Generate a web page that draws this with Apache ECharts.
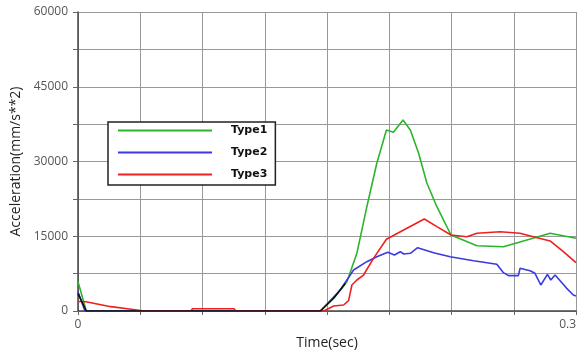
<!DOCTYPE html>
<html>
<head>
<meta charset="utf-8">
<script src="https://cdn.jsdelivr.net/npm/echarts@6/dist/echarts.min.js"></script>
<style>
  html, body { margin: 0; padding: 0; background: #fff; }
  #chart { width: 581px; height: 351px; }
</style>
</head>
<body>
<div id="chart"></div>
<script>
// [time(sec), acceleration(mm/s**2)]
var type1 = [
  [0, 5900], [0.005, 0], [0.146, 0], [0.154, 2550], [0.162, 5880], [0.168, 11580],
  [0.174, 20930], [0.180, 29640], [0.1858, 36320], [0.190, 35860], [0.1958, 38330],
  [0.2002, 36320], [0.2052, 31650], [0.2102, 25630], [0.2162, 20930], [0.2247, 15250],
  [0.2403, 13100], [0.2563, 12900], [0.2704, 14250], [0.2844, 15590], [0.3, 14590]
];
var type2 = [
  [0, 3880], [0.0042, 0], [0.146, 0], [0.158, 4210], [0.166, 8230], [0.174, 9900],
  [0.180, 10900], [0.1866, 11780], [0.1906, 11240], [0.1942, 11900], [0.1962, 11440],
  [0.2002, 11580], [0.2046, 12700], [0.2142, 11700], [0.2242, 10900], [0.2383, 10090],
  [0.2523, 9370], [0.2563, 7690], [0.2593, 7090], [0.2653, 7090], [0.2663, 8560],
  [0.2723, 8090], [0.2753, 7560], [0.2788, 5220], [0.2828, 7360], [0.2848, 6220],
  [0.2874, 7220], [0.2944, 4550], [0.2984, 3210], [0.3, 3010]
];
var type3 = [
  [0, 1900], [0.0048, 1870], [0.0198, 870], [0.0309, 400], [0.04, 0], [0.068, 0],
  [0.069, 450], [0.094, 450], [0.095, 0], [0.148, 0], [0.154, 1000], [0.160, 1200],
  [0.163, 2070], [0.165, 5220], [0.168, 6220], [0.172, 7220], [0.178, 10570],
  [0.1858, 14390], [0.1942, 15910], [0.2086, 18460], [0.2162, 16920], [0.2247, 15250],
  [0.2343, 14910], [0.2403, 15590], [0.2543, 15910], [0.2663, 15590], [0.2743, 14910],
  [0.2844, 14050], [0.2924, 11900], [0.3, 9690]
];
var baseLine = [
  [0, 3500], [0.005, 0], [0.146, 0], [0.154, 2550], [0.161, 5500]
];
var legendNames = ["Type1", "Type2", "Type3"];
var lineColors = ["#2cb52c", "#3a3ae0", "#ee2020"];

var chart = echarts.init(document.getElementById("chart"));

function mkSeries(name, data, color) {
  return {
    name: name,
    type: "line",
    data: data,
    showSymbol: false,
    symbol: "none",
    animation: false,
    lineStyle: { color: color, width: 1.6 },
    itemStyle: { color: color }
  };
}

var option = {
  animation: false,
  textStyle: { fontFamily: "Open Sans" },
  grid: { left: 78, right: 5, top: 12, bottom: 40, outerBoundsMode: "none", containLabel: false },
  legend: {
    data: legendNames,
    orient: "vertical",
    left: 108,
    top: 122,
    icon: "rect",
    itemWidth: 94,
    itemHeight: 2,
    itemGap: 7,
    padding: [1, 8, 3, 10],
    borderColor: "#222",
    borderWidth: 1.5,
    backgroundColor: "#fff",
    textStyle: {
      fontFamily: "DejaVu Sans",
      fontWeight: "bold",
      fontSize: 11,
      color: "#111",
      lineHeight: 15,
      padding: [0, 0, 0, 14]
    }
  },
  xAxis: {
    type: "value",
    min: 0,
    max: 0.3,
    interval: 0.0375,
    name: "Time(sec)",
    nameLocation: "middle",
    nameGap: 22,
    nameTextStyle: { fontSize: 14, color: "#222" },
    axisLine: { lineStyle: { color: "#444", width: 1.5 } },
    axisTick: { show: true, length: 4, lineStyle: { color: "#666" } },
    axisLabel: {
      color: "#555",
      fontSize: 12,
      margin: 8,
      alignMaxLabel: "right",
      formatter: function (v) {
        if (v === 0) return "0";
        if (Math.abs(v - 0.3) < 1e-9) return "0.3";
        return "";
      }
    },
    splitLine: { show: true, lineStyle: { color: "#999", width: 1 } }
  },
  yAxis: {
    type: "value",
    min: 0,
    max: 60000,
    interval: 7500,
    name: "Acceleration(mm/s**2)",
    nameLocation: "middle",
    nameGap: 50,
    nameTextStyle: { fontSize: 14, color: "#222" },
    axisLine: { show: true, lineStyle: { color: "#444", width: 1.5 } },
    axisTick: { show: true, length: 5, lineStyle: { color: "#666" } },
    axisLabel: {
      color: "#555",
      fontSize: 12,
      margin: 10,
      formatter: function (v) {
        return v % 15000 === 0 ? String(v) : "";
      }
    },
    splitLine: { show: true, lineStyle: { color: "#999", width: 1 } }
  },
  series: [
    mkSeries("Type1", type1, lineColors[0]),
    mkSeries("Type2", type2, lineColors[1]),
    mkSeries("Type3", type3, lineColors[2]),
    mkSeries("base", baseLine, "#111")
  ]
};

chart.setOption(option);
</script>
</body>
</html>
